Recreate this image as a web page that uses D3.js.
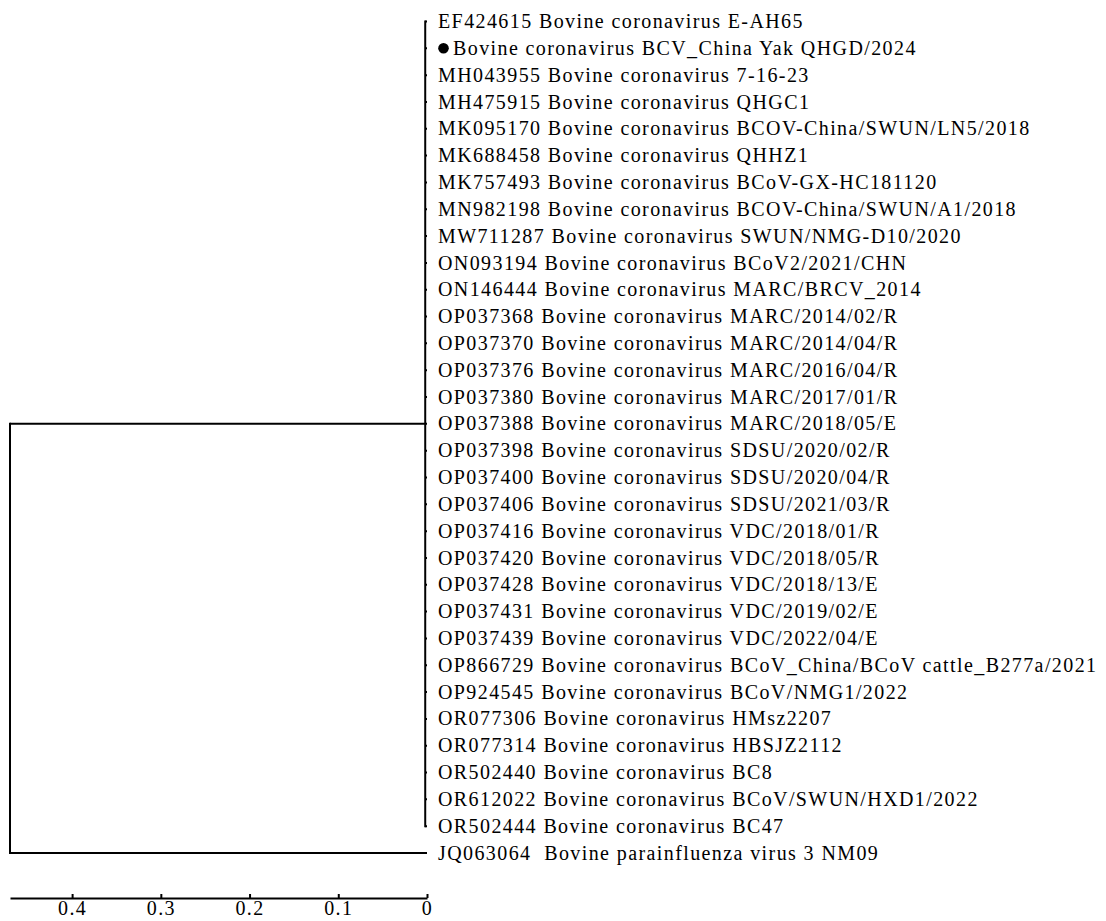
<!DOCTYPE html>
<html>
<head>
<meta charset="utf-8">
<script src="https://cdn.jsdelivr.net/npm/d3@7"></script>
<style>
  html, body { margin: 0; padding: 0; background: #fff; }
  svg { display: block; }
  text { font-family: "Liberation Serif", "Times New Roman", serif; fill: #000; }
</style>
</head>
<body>
<svg id="chart" width="1106" height="921"></svg>
<script>
// ---------- data ----------
const cladeTips = [
  "EF424615 Bovine coronavirus E-AH65",
  "Bovine coronavirus BCV_China Yak QHGD/2024",
  "MH043955 Bovine coronavirus 7-16-23",
  "MH475915 Bovine coronavirus QHGC1",
  "MK095170 Bovine coronavirus BCOV-China/SWUN/LN5/2018",
  "MK688458 Bovine coronavirus QHHZ1",
  "MK757493 Bovine coronavirus BCoV-GX-HC181120",
  "MN982198 Bovine coronavirus BCOV-China/SWUN/A1/2018",
  "MW711287 Bovine coronavirus SWUN/NMG-D10/2020",
  "ON093194 Bovine coronavirus BCoV2/2021/CHN",
  "ON146444 Bovine coronavirus MARC/BRCV_2014",
  "OP037368 Bovine coronavirus MARC/2014/02/R",
  "OP037370 Bovine coronavirus MARC/2014/04/R",
  "OP037376 Bovine coronavirus MARC/2016/04/R",
  "OP037380 Bovine coronavirus MARC/2017/01/R",
  "OP037388 Bovine coronavirus MARC/2018/05/E",
  "OP037398 Bovine coronavirus SDSU/2020/02/R",
  "OP037400 Bovine coronavirus SDSU/2020/04/R",
  "OP037406 Bovine coronavirus SDSU/2021/03/R",
  "OP037416 Bovine coronavirus VDC/2018/01/R",
  "OP037420 Bovine coronavirus VDC/2018/05/R",
  "OP037428 Bovine coronavirus VDC/2018/13/E",
  "OP037431 Bovine coronavirus VDC/2019/02/E",
  "OP037439 Bovine coronavirus VDC/2022/04/E",
  "OP866729 Bovine coronavirus BCoV_China/BCoV cattle_B277a/2021",
  "OP924545 Bovine coronavirus BCoV/NMG1/2022",
  "OR077306 Bovine coronavirus HMsz2207",
  "OR077314 Bovine coronavirus HBSJZ2112",
  "OR502440 Bovine coronavirus BC8",
  "OR612022 Bovine coronavirus BCoV/SWUN/HXD1/2022",
  "OR502444 Bovine coronavirus BC47"
];
const markedTips = ["Bovine coronavirus BCV_China Yak QHGD/2024"];
const outgroupTip = "JQ063064  Bovine parainfluenza virus 3 NM09";

// branch lengths (substitutions/site)
const rootToCladeLength = 0.468;
const cladeTipLengths = cladeTips.map(() => 0.002);
const rootToOutgroupLength = 0.47;

const scaleTicks = [0.4, 0.3, 0.2, 0.1, 0];
const scaleTickLabels = ["0.4", "0.3", "0.2", "0.1", "0"];

// ---------- tree ----------
const treeData = {
  name: "root", length: 0,
  children: [
    { name: "clade", length: rootToCladeLength,
      children: cladeTips.map((n, i) => ({ name: n, length: cladeTipLengths[i] })) },
    { name: outgroupTip, length: rootToOutgroupLength }
  ]
};

const root = d3.hierarchy(treeData);
root.each(d => { d.dist = (d.parent ? d.parent.dist : 0) + d.data.length; });
const maxDist = d3.max(root.leaves(), d => d.dist);

const svg = d3.select("#chart");
const fontSize = 20;
const letterSpacing = 1.4;

const x = d3.scaleLinear().domain([maxDist, 0]).range([10, 427]);
const leaves = root.leaves();
const y = d3.scalePoint().domain(leaves.map(d => d.data.name)).range([21.5, 853]);

leaves.forEach(d => { d.yPos = y(d.data.name); });
root.eachAfter(d => { if (d.children) d.yPos = d3.mean(d.children, c => c.yPos); });
root.each(d => { d.xPos = x(maxDist - d.dist); });

const g = svg.append("g").attr("stroke", "#000").attr("stroke-width", 2).attr("fill", "none");

// vertical connectors
root.descendants().filter(d => d.children).forEach(d => {
  const ys = d.children.map(c => c.yPos);
  g.append("line")
    .attr("x1", d.xPos).attr("x2", d.xPos)
    .attr("y1", d3.min(ys) - 1).attr("y2", d3.max(ys) + 1);
});
// horizontal branches
root.descendants().filter(d => d.parent).forEach(d => {
  g.append("line")
    .attr("x1", d.parent.xPos).attr("x2", d.xPos)
    .attr("y1", d.yPos).attr("y2", d.yPos);
});

// tip labels
const labelOffset = 11;
leaves.forEach(d => {
  const isMarked = markedTips.includes(d.data.name);
  let tx = d.xPos + labelOffset;
  if (isMarked) {
    svg.append("circle").attr("cx", tx + 5.5).attr("cy", d.yPos).attr("r", 5.3).attr("fill", "#000");
    tx += 15;
  }
  svg.append("text")
    .attr("x", tx).attr("y", d.yPos + 6.6)
    .attr("font-size", fontSize)
    .attr("letter-spacing", letterSpacing)
    .style("white-space", "pre")
    .attr("xml:space", "preserve")
    .text(d.data.name);
});

// scale axis
const axis = d3.axisBottom(x)
  .tickValues(scaleTicks)
  .tickFormat((v, i) => scaleTickLabels[i])
  .tickSizeInner(-4)
  .tickSizeOuter(0)
  .tickPadding(3);

const ax = svg.append("g").attr("transform", "translate(0,898)").call(axis);
ax.select(".domain").attr("stroke", "#000").attr("stroke-width", 2);
ax.selectAll(".tick line").attr("stroke", "#000").attr("stroke-width", 2);
ax.selectAll(".tick text")
  .attr("font-family", "Liberation Serif, Times New Roman, serif")
  .attr("font-size", fontSize)
  .attr("letter-spacing", letterSpacing)
  .attr("fill", "#000");
</script>
</body>
</html>
